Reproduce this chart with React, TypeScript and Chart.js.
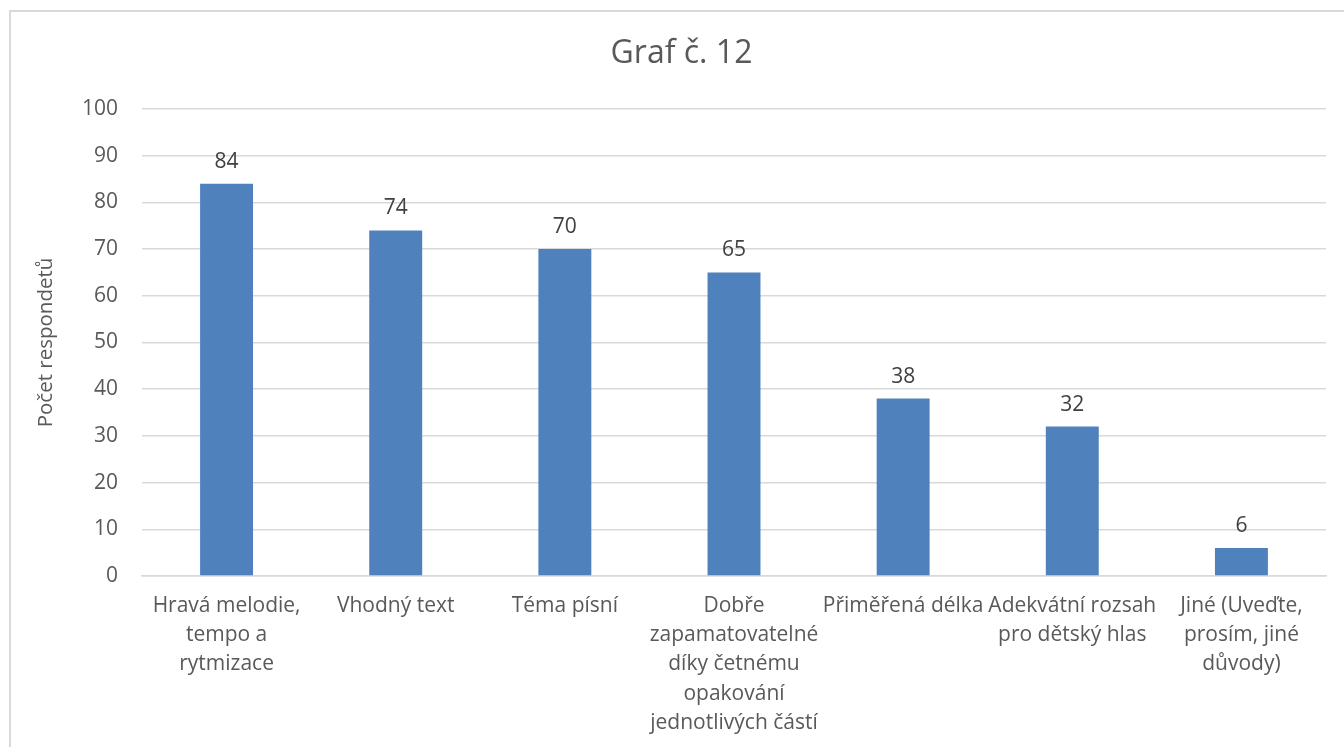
import React, { useEffect, useRef } from "react";
import { Chart, registerables } from "chart.js";

Chart.register(...registerables);

const chartTitle = "Graf č. 12";
const yAxisTitle = "Počet respondetů";
const categories: string[][] = [
  ["Hravá melodie,", "tempo a", "rytmizace"],
  ["Vhodný text"],
  ["Téma písní"],
  ["Dobře", "zapamatovatelné", "díky četnému", "opakování", "jednotlivých částí"],
  ["Přiměřená délka"],
  ["Adekvátní rozsah", "pro dětský hlas"],
  ["Jiné (Uveďte,", "prosím, jiné", "důvody)"],
];
const values: number[] = [84, 74, 70, 65, 38, 32, 6];
const yMin = 0;
const yMax = 100;
const yStep = 10;

const FONT = "'Open Sans', 'Noto Sans', sans-serif";
const TEXT = "#595959";
const GRID = "#D9D9D9";
const BAR = "#4F81BD";

export default function App() {
  const ref = useRef<HTMLCanvasElement | null>(null);
  useEffect(() => {
    if (!ref.current) return;
    const titlePlugin = {
      id: "customTitle",
      afterDraw(chart: any) {
        const ctx = chart.ctx;
        ctx.save();
        ctx.font = `32px ${FONT}`;
        ctx.fillStyle = TEXT;
        ctx.textAlign = "center";
        ctx.textBaseline = "middle";
        ctx.fillText(chartTitle, 681.5, 54);
        ctx.restore();
      },
    };
    const labelPlugin = {
      id: "valueLabels",
      afterDatasetsDraw(chart: any) {
        const ctx = chart.ctx;
        const meta = chart.getDatasetMeta(0);
        ctx.save();
        ctx.font = `21px ${FONT}`;
        ctx.fillStyle = "#404040";
        ctx.textAlign = "center";
        ctx.textBaseline = "alphabetic";
        meta.data.forEach((el: any, i: number) => {
          ctx.fillText(String(chart.data.datasets[0].data[i]), el.x, el.y - 16);
        });
        ctx.restore();
      },
    };
    const chart = new Chart(ref.current, {
      type: "bar",
      data: {
        labels: categories,
        datasets: [
          {
            data: values,
            backgroundColor: BAR,
            barPercentage: 0.313,
            categoryPercentage: 1,
          },
        ],
      },
      options: {
        animation: false,
        responsive: false,
        maintainAspectRatio: false,
        layout: { padding: { top: 109, right: 18, left: 34, bottom: 0 } },
        plugins: {
          legend: { display: false },
          tooltip: { enabled: false },
          title: { display: false },
        },
        scales: {
          x: {
            grid: { display: false, drawTicks: false },
            border: { display: true, color: GRID, width: 1.5 },
            ticks: {
              autoSkip: false,
              maxRotation: 0,
              minRotation: 0,
              color: TEXT,
              padding: 15,
              font: { family: FONT, size: 21, lineHeight: 1.4 },
            },
            afterFit(scale: any) {
              scale.height = 171;
            },
          },
          y: {
            min: yMin,
            max: yMax,
            grid: { color: GRID, lineWidth: 1.5, drawTicks: false },
            border: { display: false },
            ticks: {
              stepSize: yStep,
              color: TEXT,
              padding: 24,
              font: { family: FONT, size: 21 },
            },
            title: {
              display: true,
              text: yAxisTitle,
              color: TEXT,
              padding: { top: 0, bottom: 0 },
              font: { family: FONT, size: 20.5 },
            },
            afterFit(scale: any) {
              scale.width = 108;
            },
          },
        },
      },
      plugins: [titlePlugin, labelPlugin],
    });
    return () => chart.destroy();
  }, []);

  return (
    <div
      style={{
        position: "fixed",
        left: 0,
        top: 0,
        width: 1344,
        height: 747,
        overflow: "hidden",
        background: "#fff",
      }}
    >
      <div
        style={{
          position: "absolute",
          left: 9,
          top: 10,
          width: 1343,
          height: 800,
          border: "2px solid #D9D9D9",
          boxSizing: "border-box",
        }}
      />
      <canvas
        ref={ref}
        width={1344}
        height={747}
        style={{ position: "absolute", left: 0, top: 0, width: 1344, height: 747 }}
      />
    </div>
  );
}
